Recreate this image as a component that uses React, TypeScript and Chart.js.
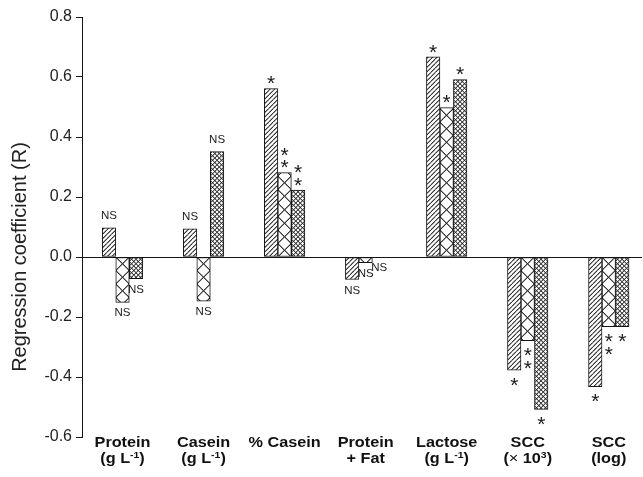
import React, { useEffect, useRef } from 'react';
import { Chart, registerables } from 'chart.js';

Chart.register(...registerables);

// "{...}" marks a superscript part of a category label line
const categories: string[][] = [
  ['Protein', '(g L{-1})'],
  ['Casein', '(g L{-1})'],
  ['% Casein'],
  ['Protein', '+ Fat'],
  ['Lactose', '(g L{-1})'],
  ['SCC', '(× 10{3})'],
  ['SCC', '(log)'],
];

const seriesHatch = [0.097, 0.094, 0.561, -0.075, 0.667, -0.377, -0.432];
const seriesCross = [-0.151, -0.147, 0.281, -0.019, 0.498, -0.279, -0.232];
const seriesFine = [-0.072, 0.351, 0.223, 0.0, 0.591, -0.508, -0.232];

const notesHatch = ['NS', 'NS', '*', 'NS', '*', '*', '*'];
const notesCross = ['NS', 'NS', '**', 'NS', '*', '**', '**'];
const notesFine = ['NS', 'NS', '**', 'NS', '*', '*', '*'];

const yMin = -0.6;
const yMax = 0.8;
const yStep = 0.2;
const yTitle = 'Regression coefficient (R)';

const FONT = '"Liberation Sans", Arial, Helvetica, sans-serif';
const BAR = 13.5;
const INK = '#151515';

type Kind = 'hatch' | 'cross' | 'fine';

function makePattern(kind: Kind): CanvasPattern {
  const n = kind === 'cross' ? 27 : 9;
  const c = document.createElement('canvas');
  c.width = n;
  c.height = n;
  const g = c.getContext('2d')!;
  g.fillStyle = '#ffffff';
  g.fillRect(0, 0, n, n);
  g.strokeStyle = '#2a2a2a';
  g.lineWidth = kind === 'fine' ? 1.7 : 2;
  g.beginPath();
  for (const k of [-1, 0, 1]) {
    const o = k * n;
    g.moveTo(o, n);
    g.lineTo(o + n, 0);
    if (kind !== 'hatch') {
      g.moveTo(o, 0);
      g.lineTo(o + n, n);
    }
  }
  g.stroke();
  return g.createPattern(c, 'repeat')!;
}

type Seg = { t: string; sup: boolean; light: boolean };

function parseLine(s: string): Seg[] {
  const out: Seg[] = [];
  const re = /\{([^}]*)\}|×|[^{×]+/g;
  let m: RegExpExecArray | null;
  while ((m = re.exec(s))) {
    if (m[1] !== undefined) out.push({ t: m[1], sup: true, light: false });
    else if (m[0] === '×') out.push({ t: '×', sup: false, light: true });
    else out.push({ t: m[0], sup: false, light: false });
  }
  return out;
}

export default function App() {
  const ref = useRef<HTMLCanvasElement | null>(null);

  useEffect(() => {
    const canvas = ref.current;
    if (!canvas) return;
    const patterns = [makePattern('hatch'), makePattern('cross'), makePattern('fine')];
    const values = [seriesHatch, seriesCross, seriesFine];
    const notes = [notesHatch, notesCross, notesFine];

    const patternPlugin = {
      id: 'patternAlign',
      beforeDatasetsDraw(chart: any) {
        const xs = chart.scales.x;
        const ys = chart.scales.y;
        const y0 = ys.getPixelForValue(0);
        const cx = xs.getPixelForValue(0);
        patterns.forEach((p, d) => {
          const left = cx - 1.5 * BAR + d * BAR;
          try {
            p.setTransform(new DOMMatrix([0.5, 0, 0, 0.5, left, y0]));
          } catch (e) {
            /* ignore */
          }
        });
      },
    };

    const textPlugin = {
      id: 'texts',
      afterDraw(chart: any) {
        const ctx = chart.ctx as CanvasRenderingContext2D;
        const ys = chart.scales.y;
        const xs = chart.scales.x;
        // y title
        ctx.save();
        ctx.translate(20.5, ys.getPixelForValue(0));
        ctx.rotate(-Math.PI / 2);
        ctx.font = `20px ${FONT}`;
        ctx.fillStyle = '#222';
        ctx.textAlign = 'center';
        ctx.textBaseline = 'middle';
        ctx.fillText(yTitle, 0, 0);
        ctx.restore();

        // category labels
        const SX = 1.16;
        const main = `bold 14px ${FONT}`;
        const light = `14px ${FONT}`;
        const sup = `bold 9px ${FONT}`;
        const base0 = chart.chartArea.bottom + 10;
        const lineGap = 15.5;
        ctx.save();
        ctx.fillStyle = '#111';
        ctx.textBaseline = 'alphabetic';
        ctx.textAlign = 'left';
        categories.forEach((lines, i) => {
          const cx = xs.getPixelForValue(i);
          lines.forEach((line, li) => {
            const segs = parseLine(line);
            const widths = segs.map((s) => {
              ctx.font = s.sup ? sup : s.light ? light : main;
              return ctx.measureText(s.t).width;
            });
            const total = widths.reduce((a, b) => a + b, 0);
            ctx.save();
            ctx.translate(cx, base0 + li * lineGap);
            ctx.scale(SX, 1);
            let x = -total / 2;
            segs.forEach((s, k) => {
              ctx.font = s.sup ? sup : s.light ? light : main;
              ctx.fillText(s.t, x, s.sup ? -4.5 : 0);
              x += widths[k];
            });
            ctx.restore();
          });
        });
        ctx.restore();
      },
    };

    const notesPlugin = {
      id: 'notes',
      afterDatasetsDraw(chart: any) {
        const ctx = chart.ctx as CanvasRenderingContext2D;
        ctx.save();
        ctx.fillStyle = '#1a1a1a';
        ctx.textAlign = 'center';
        values.forEach((vals, d) => {
          const meta = chart.getDatasetMeta(d);
          vals.forEach((v, i) => {
            const el = meta.data[i];
            if (!el) return;
            const label = notes[d][i];
            const up = v > 0;
            const x = el.x;
            const yEnd = el.y;
            if (label === 'NS') {
              ctx.font = `11.5px ${FONT}`;
              ctx.textBaseline = 'middle';
              ctx.fillText('NS', x, up ? yEnd - 12 : yEnd + 11);
            } else {
              const fs = 21;
              ctx.font = `${fs}px ${FONT}`;
              ctx.textBaseline = 'alphabetic';
              for (let j = 0; j < label.length; j++) {
                const cy = up ? yEnd - 10 - j * 12.5 : yEnd + 10 + j * 12.5;
                ctx.fillText('*', x, cy + 0.56 * fs);
              }
            }
          });
        });
        ctx.restore();
      },
    };

    const mk = (vals: number[], d: number) => ({
      label: 's' + d,
      data: vals.map((v, i) => ({ x: i, y: v })),
      backgroundColor: patterns[d],
      borderColor: INK,
      borderWidth: 1,
      borderSkipped: false,
      barThickness: BAR,
    });

    const chart = new Chart(canvas, {
      type: 'bar',
      data: {
        datasets: [mk(seriesHatch, 0), mk(seriesCross, 1), mk(seriesFine, 2)] as any,
      },
      options: {
        responsive: false,
        animation: false,
        layout: { padding: { top: 17, right: 1, left: 0, bottom: 0 } },
        plugins: { legend: { display: false }, tooltip: { enabled: false } },
        scales: {
          x: {
            type: 'linear',
            min: -0.5,
            max: 6.41,
            offset: false,
            grid: { display: false, drawTicks: false, offset: false },
            border: { display: false },
            afterBuildTicks: (s: any) => {
              s.ticks = categories.map((_, i) => ({ value: i }));
            },
            afterFit: (s: any) => {
              s.height = 40;
            },
            ticks: { display: false },
          },
          y: {
            min: yMin,
            max: yMax,
            ticks: {
              stepSize: yStep,
              padding: 4,
              color: '#222',
              font: { family: FONT, size: 16 },
              callback: (v: any) => Number(v).toFixed(1),
            },
            grid: {
              color: (c: any) => (c.tick && Math.abs(c.tick.value) < 1e-9 ? INK : 'rgba(0,0,0,0)'),
              tickColor: INK,
              tickLength: 6,
              lineWidth: 1,
            },
            border: { display: true, color: INK, width: 1 },
            title: { display: false },
            afterFit: (s: any) => {
              s.width = 82;
            },
          },
        } as any,
      },
      plugins: [patternPlugin, notesPlugin, textPlugin],
    });

    return () => chart.destroy();
  }, []);

  return (
    <div style={{ position: 'absolute', left: 0, top: 0, width: 643, height: 477, background: '#fff' }}>
      <canvas ref={ref} width={643} height={477} style={{ display: 'block' }} />
    </div>
  );
}
